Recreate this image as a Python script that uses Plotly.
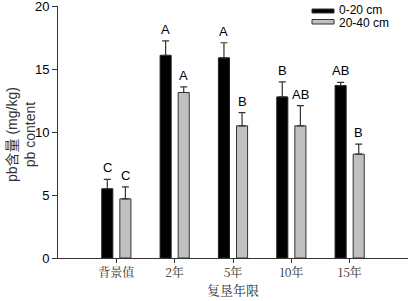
import plotly.graph_objects as go

categories = ["背景值", "2年", "5年", "10年", "15年"]
depth_0_20 = [5.5, 16.1, 15.9, 12.8, 13.7]
err_0_20 = [0.75, 1.15, 1.2, 1.2, 0.25]
depth_20_40 = [4.7, 13.15, 10.5, 10.5, 8.25]
err_20_40 = [0.95, 0.45, 1.05, 1.6, 0.8]
letters_0_20 = ["C", "A", "A", "B", "AB"]
letters_20_40 = ["C", "A", "B", "AB", "B"]
series_names = ["0-20 cm", "20-40 cm"]
series_colors = ["black", "#c0c0c0"]

W, H = 412, 301
L, R, T, B = 58, 4, 6, 43
pw, ph = W - L - R, H - T - B

def px(xp):
    return (xp - L) / pw

def py(yp):
    return (H - B - yp) / ph

xs = list(range(len(categories)))
bw = 0.19
off = 0.155

fig = go.Figure()
fig.add_trace(go.Bar(
    x=xs, y=depth_0_20, name=series_names[0], width=bw, offset=-off - bw / 2,
    marker=dict(color=series_colors[0], line=dict(color="#222", width=1)),
    error_y=dict(type="data", array=err_0_20, arrayminus=[0] * 5, color="#333", thickness=1.2, width=3.5),
))
fig.add_trace(go.Bar(
    x=xs, y=depth_20_40, name=series_names[1], width=bw, offset=off - bw / 2,
    marker=dict(color=series_colors[1], line=dict(color="#333", width=1)),
    error_y=dict(type="data", array=err_20_40, arrayminus=[0] * 5, color="#333", thickness=1.2, width=3.5),
))

for i in xs:
    fig.add_annotation(x=i - off, y=depth_0_20[i] + err_0_20[i], text=letters_0_20[i],
                       showarrow=False, yanchor="bottom", yshift=2,
                       font=dict(family="Liberation Sans, Arial", size=13, color="black"))
    fig.add_annotation(x=i + off, y=depth_20_40[i] + err_20_40[i], text=letters_20_40[i],
                       showarrow=False, yanchor="bottom", yshift=2,
                       font=dict(family="Liberation Sans, Arial", size=13, color="black"))

# manual legend (wide swatches)
legend_swatches = [(9, 13), (19.5, 24)]
legend_text_y = [10.3, 22.7]
for (y0, y1), ty, name, col in zip(legend_swatches, legend_text_y, series_names, series_colors):
    fig.add_shape(type="rect", xref="paper", yref="paper",
                  x0=px(312), x1=px(334), y0=py(y1), y1=py(y0),
                  fillcolor=col, line=dict(color="#333", width=1))
    fig.add_annotation(xref="paper", yref="paper", x=px(337), y=py(ty),
                       text=name, showarrow=False, xanchor="left", yanchor="middle",
                       font=dict(family="Liberation Sans, Arial", size=12, color="black"))

# y-axis title as rotated annotation
fig.add_annotation(xref="paper", yref="paper", x=px(21), y=py(135),
                   text="pb含量 (mg/kg)<br>pb content", textangle=-90, showarrow=False,
                   xanchor="center", yanchor="middle",
                   font=dict(family="Liberation Sans, Noto Sans CJK SC", size=14, color="#333"))

fig.update_layout(
    width=W, height=H,
    margin=dict(l=L, r=R, t=T, b=B, autoexpand=False),
    plot_bgcolor="white", paper_bgcolor="white",
    showlegend=False,
    font=dict(family="Liberation Sans, Arial", color="black"),
)
fig.update_xaxes(
    range=[-1.0, 5.0], tickmode="array", tickvals=xs, ticktext=categories,
    showline=True, linecolor="#333", linewidth=1, ticks="outside", ticklen=4, tickcolor="#333",
    showgrid=False, zeroline=False, automargin=False,
    tickfont=dict(family="Noto Serif CJK SC, Noto Sans CJK SC", size=12, color="#333"),
    title=dict(text="复垦年限", font=dict(family="Noto Serif CJK SC, Noto Sans CJK SC", size=13, color="#333"), standoff=4),
)
fig.update_yaxes(
    range=[0, 20.02], tickvals=[0, 5, 10, 15, 20],
    showline=True, linecolor="#333", linewidth=1, ticks="outside", ticklen=5, tickcolor="#333",
    showgrid=False, zeroline=False, automargin=False, ticklabeloverflow="allow",
    tickfont=dict(family="Liberation Sans, Arial", size=13, color="black"),
)

fig.write_html("out.html", config={"displayModeBar": False},
               post_script="document.body.style.margin='0';document.body.style.padding='0';")
